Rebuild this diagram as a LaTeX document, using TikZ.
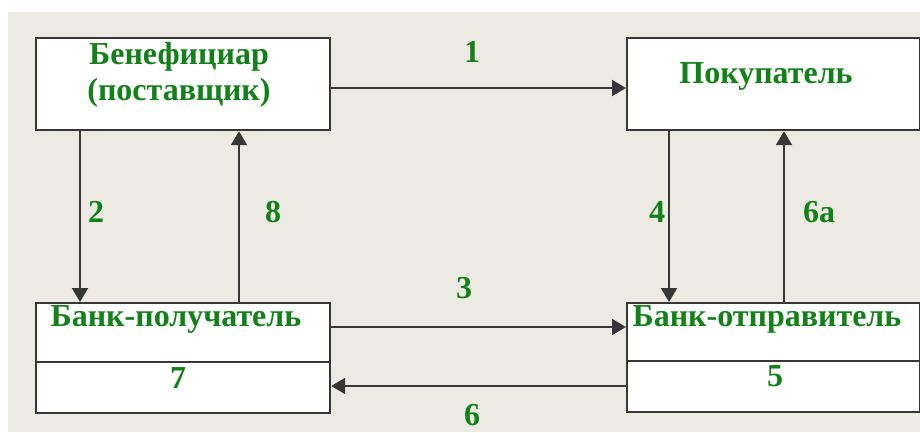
\documentclass[tikz,border=0pt]{standalone}
\usepackage{fontspec}
\setmainfont{Liberation Serif}
\usetikzlibrary{arrows.meta}
\definecolor{txtgreen}{RGB}{18,130,24}
\definecolor{linegrey}{RGB}{55,55,55}
\definecolor{bgtex}{RGB}{236,234,226}
\tikzset{
  box/.style={draw=linegrey, line width=2.2pt, fill=white, inner sep=0pt, anchor=north west},
  lbl/.style={text=txtgreen, font=\fontsize{32}{36}\selectfont\bfseries, inner sep=0pt, anchor=base},
  conn/.style={draw=linegrey, line width=2pt, -{Triangle[length=14pt,width=16pt]}},
}
\begin{document}
\begin{tikzpicture}[x=1pt,y=-1pt]
\useasboundingbox (0,0) rectangle (920,432);
\fill[white] (0,0) rectangle (920,432);
\fill[bgtex] (8,12) rectangle (920,432);
% boxes
\node[box, minimum width=294pt, minimum height=92pt] (A) at (35,37) {};
\node[box, minimum width=293pt, minimum height=92pt] (B) at (626,37) {};
\node[box, minimum width=294pt, minimum height=110pt] (C) at (35,302) {};
\node[box, minimum width=293pt, minimum height=109pt] (D) at (626,302) {};
\draw[draw=linegrey, line width=2.2pt] (35,362) coordinate (c1) -- (329,362) coordinate (c2);
\draw[draw=linegrey, line width=2.2pt] (626,361) coordinate (d1) -- (919,361) coordinate (d2);
% texts
\node[lbl] (tA1) at (179,64) {Бенефициар};
\node[lbl] (tA2) at (179,100) {(поставщик)};
\node[lbl] (tB) at (766,83) {Покупатель};
\node[lbl] (tC) at (176,326) {Банк-получатель};
\node[lbl] (tC7) at (178,388) {7};
\node[lbl] (tD) at (767,326) {Банк-отправитель};
\node[lbl] (tD5) at (775,386) {5};
% connectors
\coordinate (a1) at (329,88);
\draw[conn] (a1) -- (a1 -| B.west);
\coordinate (a2) at (80,129);
\draw[conn] (a2) -- (a2 |- C.north);
\coordinate (a8) at (239,302);
\draw[conn] (a8) -- (a8 |- A.south);
\coordinate (a4) at (669,129);
\draw[conn] (a4) -- (a4 |- D.north);
\coordinate (a6a) at (784,302);
\draw[conn] (a6a) -- (a6a |- B.south);
\coordinate (a3) at (329,327);
\draw[conn] (a3) -- (a3 -| D.west);
\coordinate (a6) at (626,386);
\draw[conn] (a6) -- (a6 -| C.east);
% numbers
\node[lbl] (n1) at (472,62) {1};
\node[lbl] (n2) at (96,222) {2};
\node[lbl] (n8) at (273,222) {8};
\node[lbl] (n4) at (657,222) {4};
\node[lbl] (n6a) at (819,222) {6а};
\node[lbl] (n3) at (464,298) {3};
\node[lbl] (n6) at (472,425) {6};
\end{tikzpicture}
\end{document}
